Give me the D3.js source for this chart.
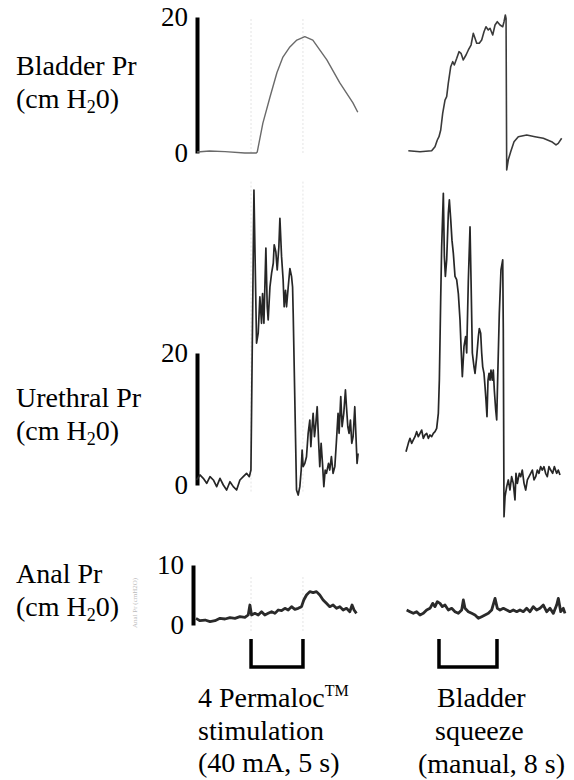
<!DOCTYPE html>
<html>
<head>
<meta charset="utf-8">
<script src="https://cdn.jsdelivr.net/npm/d3@7"></script>
</head>
<body style="margin:0; font-family: 'Liberation Serif', serif">
<div id="viz"></div>
<script>
// traces: [time (s), pressure (cm H2O)]
const bladderLeft = [[0.1,0.15],[1.3,0.3],[2.8,0.2],[4.7,0.0],[5.8,0.0],[5.9,0.15],[6.44,4.4],[7.12,8.2],[7.79,11.8],
  [8.37,14.1],[9.04,15.6],[9.71,16.6],[10.48,17.1],[11.25,16.6],[12.6,13.7],[13.85,10.3],[15.1,7.4],[15.58,6.0]];

const bladderRight = [[0.32,0.34],[1.93,0.19],[3.54,0.34],[4.0,0.93],[4.32,1.91],[4.55,2.4],[4.79,3.38],[5.06,5.84],
  [5.38,7.79],[5.61,8.28],[5.83,10.25],[6.17,12.69],[6.44,13.43],[6.66,12.94],[7.0,13.93],[7.31,14.9],[7.59,14.66],
  [7.9,13.68],[8.28,14.41],[8.6,15.15],[8.97,15.88],[9.28,17.6],[9.52,16.87],[9.75,16.13],[10.1,16.13],[10.44,16.62],
  [10.76,17.84],[11.03,18.57],[11.35,18.09],[11.59,18.34],[11.96,17.35],[12.28,18.82],[12.59,19.31],[12.97,18.82],
  [13.34,18.57],[13.52,19.31],[13.7,20.29],[13.8,19.8],[13.89,-2.5],[14.11,-1.0],[14.44,0.19],[14.9,1.66],
  [15.49,2.4],[16.65,2.65],[17.79,2.4],[18.94,2.16],[20.09,1.66],[20.69,1.18],[21.0,1.42],[21.47,2.16]];

const urethralLeft = [[0.06,0.76],[0.38,1.52],[0.7,1.01],[1.03,0.25],[1.35,1.26],[1.67,0.76],[1.99,-0.25],[2.31,1.01],
  [2.63,0],[2.95,-0.76],[3.27,0.5],[3.59,-0.25],[3.91,-0.76],[4.23,0.76],[4.55,1.26],[4.87,1.77],[5.13,1.26],[5.29,2.27],
  [5.58,44.7],[5.83,21.5],[5.99,23],[6.15,28.5],[6.31,24.5],[6.41,29.0],[6.54,24.5],[6.73,35.9],[6.86,27.0],[6.95,25],
  [7.12,30.0],[7.28,32.1],[7.44,33.6],[7.53,36.4],[7.69,35.3],[7.82,32.6],[7.98,36.1],[8.08,40.4],[8.24,34.6],[8.39,31.1],
  [8.49,27.0],[8.62,29.5],[8.72,27.0],[8.88,30.0],[9.04,32.8],[9.2,31.6],[9.3,30.0],[9.36,26.0],[9.68,-0.76],[9.84,-1.52],
  [10.0,-0.25],[10.13,2.27],[10.22,5.3],[10.32,2.78],[10.48,3.28],[10.64,4.29],[10.8,7.83],[10.96,9.85],[11.06,5.8],
  [11.18,8.83],[11.28,10.86],[11.41,7.32],[11.54,9.35],[11.67,11.86],[11.8,6.82],[11.92,2.78],[12.05,6.32],[12.18,3.28],
  [12.31,-0.25],[12.44,2.27],[12.56,1.77],[12.76,3.28],[12.88,2.27],[13.04,4.29],[13.2,1.77],[13.37,2.78],[13.53,6.82],
  [13.68,10.86],[13.78,7.83],[13.94,13.4],[14.07,8.83],[14.23,10.86],[14.39,14.4],[14.49,11.86],[14.62,8.83],[14.74,7.83],
  [14.87,9.85],[15.0,6.32],[15.13,7.32],[15.29,11.86],[15.38,8.33],[15.51,3.28],[15.61,4.8]];

const urethralRight = [[0,5.05],[0.32,6.31],[0.55,7.07],[0.78,6.31],[1.01,6.82],[1.24,7.32],[1.47,8.08],[1.7,7.32],
  [1.93,7.83],[2.16,8.33],[2.39,7.07],[2.62,7.58],[2.85,7.83],[3.08,7.07],[3.31,7.58],[3.54,7.32],[3.77,7.83],[4.0,8.08],
  [4.23,8.59],[4.46,10.86],[4.6,15.9],[4.79,28.5],[4.92,36.1],[5.15,44.2],[5.29,34.6],[5.43,31.6],[5.61,34.1],[5.84,41.2],
  [5.98,43.2],[6.17,40.2],[6.34,37.1],[6.53,35.1],[6.76,31.6],[6.99,31.1],[7.22,29.0],[7.45,25.0],[7.59,21.0],[7.77,16.4],
  [8.0,21.0],[8.23,22.5],[8.37,20.0],[8.6,31.1],[8.83,39.1],[8.97,31.1],[9.15,20.0],[9.38,17.9],[9.52,16.9],[9.75,19.4],
  [9.98,22.5],[10.11,23.7],[10.3,23.0],[10.44,20.0],[10.58,17.9],[10.76,16.9],[10.9,14.9],[11.03,12.9],[11.17,10.35],
  [11.31,15.9],[11.45,16.9],[11.59,15.9],[11.72,17.4],[11.9,15.9],[12.04,17.4],[12.18,14.4],[12.37,11.4],[12.51,9.85],
  [12.64,15.9],[12.87,26.0],[13.1,32.6],[13.34,34.1],[13.42,23.5],[13.52,-4.8],[13.66,-1.77],[13.89,-0.25],[14.11,0.76],
  [14.34,-0.76],[14.57,1.26],[14.8,0.25],[15.03,-2.27],[15.17,1.77],[15.36,0.25],[15.63,1.77],[15.82,1.26],[16.04,2.27],
  [16.28,0.25],[16.51,-0.76],[16.74,0.76],[16.97,1.26],[17.2,1.77],[17.43,2.27],[17.66,0.76],[17.89,1.26],[18.12,2.27],
  [18.34,1.77],[18.57,2.78],[18.8,2.27],[19.03,2.78],[19.26,1.77],[19.49,1.26],[19.72,2.78],[19.96,2.27],[20.23,1.77],
  [20.46,2.78],[20.78,1.77],[21.0,2.27],[21.24,1.52]];

const analLeft = [[0,1.1],[0.38,0.72],[0.87,0.83],[1.35,0.56],[1.83,0.72],[2.31,1.11],[2.79,1.0],[3.27,1.22],[3.75,1.11],
  [4.23,1.39],[4.71,1.28],[5.03,1.67],[5.19,3.33],[5.35,1.67],[5.67,1.94],[5.99,1.67],[6.31,2.22],[6.63,1.67],[6.95,1.94],
  [7.28,2.22],[7.6,1.94],[7.92,2.5],[8.24,2.39],[8.56,2.78],[8.88,2.5],[9.2,3.06],[9.52,2.61],[9.84,2.78],[10.16,3.06],
  [10.38,4.17],[10.64,5.0],[10.96,5.56],[11.28,5.39],[11.6,5.56],[11.92,5.0],[12.24,4.17],[12.56,3.61],[12.88,3.06],
  [13.2,3.33],[13.53,2.78],[13.85,3.06],[14.17,2.5],[14.49,2.78],[14.81,2.22],[15.03,3.33],[15.22,2.5],[15.45,1.94]];

const analRight = [[0.09,2.5],[0.55,2.22],[1.01,1.94],[1.47,2.22],[1.93,1.67],[2.39,1.94],[2.85,2.5],[3.31,2.78],[3.68,3.61],
  [4.0,3.06],[4.32,3.89],[4.69,3.61],[5.01,3.06],[5.38,3.33],[5.84,2.5],[6.3,2.78],[6.76,2.22],[7.22,1.94],[7.68,2.5],
  [7.91,4.17],[8.14,2.78],[8.6,2.22],[9.06,1.94],[9.52,1.67],[9.98,1.11],[10.44,1.39],[10.9,1.67],[11.36,1.94],[11.82,2.5],
  [12.28,4.44],[12.6,2.78],[12.97,2.5],[13.43,2.78],[13.89,2.5],[14.34,2.22],[14.8,2.5],[15.27,2.22],[15.72,2.5],
  [16.18,2.22],[16.64,2.78],[17.1,2.22],[17.56,3.06],[18.02,2.5],[18.48,2.78],[18.94,3.33],[19.4,2.22],[19.86,2.78],
  [20.32,1.94],[20.78,3.33],[21.01,4.44],[21.34,2.22],[21.7,2.78],[21.93,1.94]];

const bladderTicks = [0, 20];
const urethralTicks = [0, 20];
const analTicks = [0, 10];

const stimWindow = [5.3, 10.3];     // 5 s stimulation
const squeezeWindow = [4.55, 12.55]; // 8 s squeeze

const FONT = "Liberation Serif,Tinos,Times New Roman,serif";

const svg = d3.select("#viz")
  .append("svg")
    .attr("width", 574)
    .attr("height", 780)
    .attr("font-family", FONT)
    .style("font-family", FONT);

const xLeft = d3.scaleLinear().domain([0, 15.6]).range([196, 358]);
const xRight = d3.scaleLinear().domain([0, 22]).range([406, 565.5]);

const yBladder = d3.scaleLinear().domain([0, 20]).range([153, 17]);
const yUrethral = d3.scaleLinear().domain([0, 20]).range([485, 353]);
const yAnal = d3.scaleLinear().domain([0, 10]).range([625, 565]);

// faint marker lines left over from the recording
const marks = [[yBladder, [0, 20]], [yUrethral, [-1, 46]], [yAnal, [-1, 8]]];
marks.forEach(([y, ext]) => {
  svg.selectAll(null)
    .data(stimWindow)
    .enter().append("line")
      .attr("x1", d => xLeft(d)).attr("x2", d => xLeft(d))
      .attr("y1", y(ext[0])).attr("y2", y(ext[1]))
      .attr("stroke", "#e4e4e4")
      .attr("stroke-dasharray", "2,2")
      .attr("stroke-width", 1);
});

// scanned-in tiny axis caption next to the anal axis
svg.append("text")
  .attr("transform", `translate(137,${yAnal(-0.5)}) rotate(-90)`)
  .attr("font-size", 7)
  .attr("fill", "#bbb")
  .text("Anal Pr (cmH2O)");

function drawAxis(y, ticks, xPos) {
  const g = svg.append("g")
    .attr("transform", `translate(${xPos},0)`)
    .call(d3.axisLeft(y).tickValues(ticks).tickSize(0).tickPadding(9).tickFormat(d3.format("d")));
  g.attr("font-family", FONT).attr("font-size", 27);
  g.select(".domain").attr("stroke", "#000").attr("stroke-width", 4);
  g.selectAll("text").attr("fill", "#000").style("font-family", FONT);
}

drawAxis(yBladder, bladderTicks, 197);
drawAxis(yUrethral, urethralTicks, 197);
drawAxis(yAnal, analTicks, 193);

function drawTrace(data, x, y, color, w) {
  const line = d3.line().x(d => x(d[0])).y(d => y(d[1]));
  svg.append("path")
    .datum(data)
    .attr("d", line)
    .attr("fill", "none")
    .attr("stroke", color)
    .attr("stroke-width", w)
    .attr("stroke-linejoin", "round");
}

drawTrace(bladderLeft, xLeft, yBladder, "#6a6a6a", 1.4);
drawTrace(bladderRight, xRight, yBladder, "#3a3a3a", 1.6);
drawTrace(urethralLeft, xLeft, yUrethral, "#262626", 1.7);
drawTrace(urethralRight, xRight, yUrethral, "#262626", 1.7);
drawTrace(analLeft, xLeft, yAnal, "#2a2a2a", 2.8);
drawTrace(analRight, xRight, yAnal, "#2a2a2a", 2.8);

// stimulus brackets
const brackets = [[xLeft, stimWindow], [xRight, squeezeWindow]];
brackets.forEach(([x, win]) => {
  svg.append("path")
    .attr("d", `M${x(win[0])},639V667H${x(win[1])}V639`)
    .attr("fill", "none")
    .attr("stroke", "#000")
    .attr("stroke-width", 3.5);
});

function addText(x, y) {
  return svg.append("text")
    .attr("x", x).attr("y", y)
    .attr("font-size", 28)
    .style("font-family", FONT)
    .attr("fill", "#000");
}

// channel labels
const channels = [
  { name: "Bladder Pr", base: 75 },
  { name: "Urethral Pr", base: 407 },
  { name: "Anal Pr", base: 583 }
];

channels.forEach(c => {
  addText(16, c.base).text(c.name);
  const t = addText(16, c.base + 33);
  t.append("tspan").text("(cm H");
  t.append("tspan").attr("font-size", 18).attr("dy", 5).text("2");
  t.append("tspan").attr("dy", -5).text("0)");
});

// stimulus captions
const stimLines = ["stimulation", "(40 mA, 5 s)"];
const squeezeLines = ["Bladder", "squeeze", "(manual, 8 s)"];
const squeezeX = [437, 435, 418];

const cap = addText(198, 707);
cap.append("tspan").text("4 Permaloc");
cap.append("tspan").attr("font-size", 16).attr("dy", -11).text("TM");

stimLines.forEach((s, i) => addText(198, 740 + i * 32).text(s));
squeezeLines.forEach((s, i) => addText(squeezeX[i], 707 + i * 33).text(s));
</script>
</body>
</html>
